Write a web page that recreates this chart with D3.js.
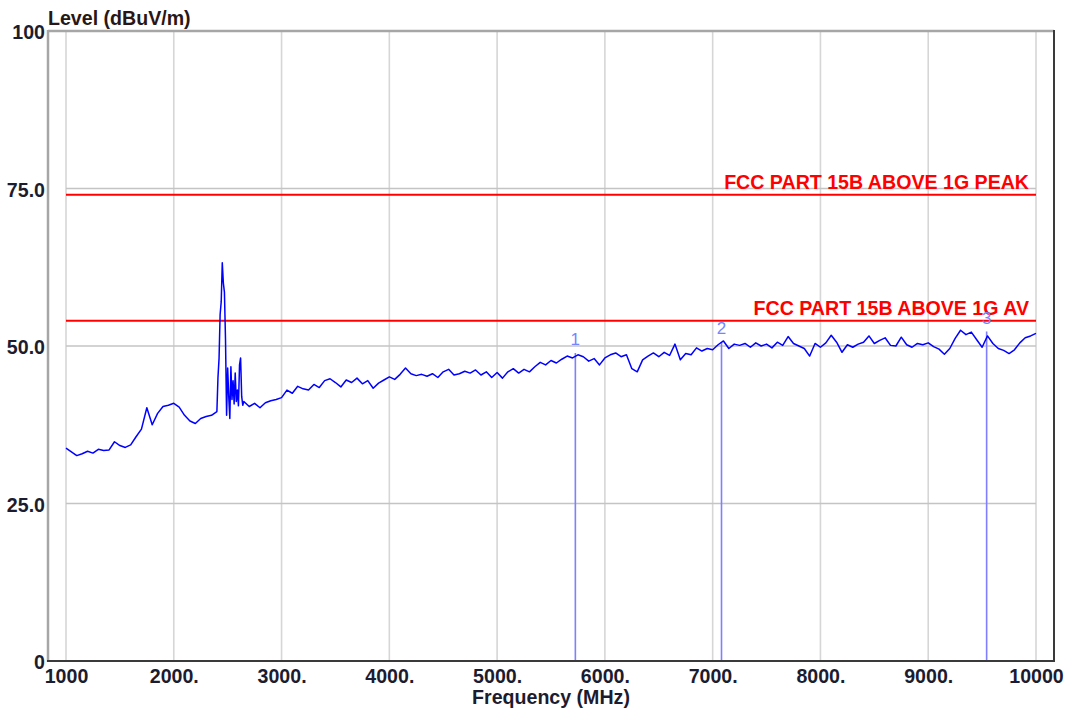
<!DOCTYPE html>
<html>
<head>
<meta charset="utf-8">
<script src="https://cdn.jsdelivr.net/npm/d3@7"></script>
<style>
  html, body { margin: 0; padding: 0; background: #ffffff; }
  svg { display: block; }
  text { font-family: "Liberation Sans", Arial, sans-serif; }
</style>
</head>
<body>
<div id="chart"></div>
<script>
// ---------- data ----------
const xTickValues = [1000, 2000, 3000, 4000, 5000, 6000, 7000, 8000, 9000, 10000];
const xTickLabels = ["1000", "2000.", "3000.", "4000.", "5000.", "6000.", "7000.", "8000.", "9000.", "10000"];
const yTickValues = [0, 25, 50, 75, 100];
const yTickLabels = ["0", "25.0", "50.0", "75.0", "100"];

const freqMHz = [
  1000,1050,1100,1150,1200,1250,1300,1350,1400,1450,1500,1550,1600,1650,1700,
  1750,1800,1850,1900,1950,2000,2050,2100,2150,2200,2250,2300,2350,2400,
  2410,2420,2430,2440,2450,2460,2470,2480,2490,2500,2510,2520,2530,2540,2550,
  2560,2570,2580,2590,2600,2610,2620,2630,2640,2650,
  2700,2750,2800,2850,2900,2950,3000,3050,3100,3150,3200,3250,3300,3350,3400,
  3450,3500,3550,3600,3650,3700,3750,3800,3850,3900,3950,4000,4050,4100,4150,
  4200,4250,4300,4350,4400,4450,4500,4550,4600,4650,4700,4750,4800,4850,4900,
  4950,5000,5050,5100,5150,5200,5250,5300,5350,5400,5450,5500,5550,5600,5650,
  5700,5750,5800,5850,5900,5950,6000,6050,6100,6150,6200,6250,6300,6350,6400,
  6450,6500,6550,6600,6650,6700,6750,6800,6850,6900,6950,7000,7050,7100,7150,
  7200,7250,7300,7350,7400,7450,7500,7550,7600,7650,7700,7750,7800,7850,7900,
  7950,8000,8050,8100,8150,8200,8250,8300,8350,8400,8450,8500,8550,8600,8650,
  8700,8750,8800,8850,8900,8950,9000,9050,9100,9150,9200,9250,9300,9350,9400,
  9450,9500,9550,9600,9650,9700,9750,9800,9850,9900,9950,10000
];
const levelDbuV = [
  33.8,33.2,32.6,32.9,33.3,33.0,33.6,33.4,33.5,34.8,34.2,33.9,34.3,35.6,36.8,
  40.2,37.5,39.3,40.4,40.6,40.9,40.3,39.0,38.1,37.7,38.5,38.8,39.0,39.6,
  45.0,48.0,55.0,57.0,63.2,60.0,58.5,51.0,39.0,46.5,42.0,38.5,46.7,41.5,44.5,
  40.8,45.7,41.2,43.0,40.5,47.0,48.1,42.0,40.6,41.2,
  40.4,40.9,40.2,41.0,41.3,41.5,41.8,43.0,42.5,43.6,43.2,43.0,43.9,43.4,44.5,
  44.8,44.2,43.5,44.6,44.2,44.9,44.0,44.5,43.3,44.1,44.6,45.1,44.7,45.5,46.5,
  45.6,45.3,45.5,45.2,45.6,45.0,45.9,46.3,45.4,45.6,46.0,45.7,46.2,45.4,45.9,
  45.0,45.8,44.9,45.9,46.4,45.7,46.3,45.9,46.7,47.4,47.0,47.7,47.3,47.9,48.4,
  48.1,48.6,48.3,47.6,48.0,47.0,48.1,48.6,48.9,48.3,48.6,46.4,45.9,47.8,48.4,
  48.9,48.3,49.0,48.5,50.3,47.8,48.8,48.6,49.7,49.2,49.6,49.4,50.2,50.8,49.6,
  50.3,50.1,50.4,49.8,50.5,50.0,50.3,49.7,50.6,50.1,51.5,50.4,50.0,49.6,48.4,
  50.4,49.8,50.5,51.7,50.6,49.0,50.2,49.8,50.3,50.6,51.6,50.4,50.9,51.3,50.1,
  50.0,51.4,50.2,49.8,50.4,50.2,50.5,49.9,49.5,48.7,49.6,51.2,52.5,51.8,52.2,
  51.0,49.8,51.6,50.4,49.6,49.3,48.8,49.4,50.5,51.3,51.6,52.0
];

const markerIds = ["1", "2", "3"];
const markerFreqMHz = [5726, 7082, 9542];
const markerLevel = [48.9, 50.6, 52.3];

const limitNames = ["FCC PART 15B ABOVE 1G PEAK", "FCC PART 15B ABOVE 1G AV"];
const limitLevels = [74, 54];

// ---------- drawing ----------
const W = 1068, H = 710;
const frame = { left: 48, right: 1054, top: 31, bottom: 661 };
const x = d3.scaleLinear().domain([1000, 10000]).range([66, 1036]);
const y = d3.scaleLinear().domain([0, 100]).range([frame.bottom, frame.top]);

const svg = d3.select("#chart").append("svg")
  .attr("width", W).attr("height", H)
  .style("background", "#ffffff");

const FONT = "bold 19.6px 'Liberation Sans', Arial, sans-serif";
const TXT = "#1c1c30";

// grid
const grid = svg.append("g");
grid.selectAll("line.v").data(xTickValues).join("line")
  .attr("x1", d => x(d)).attr("x2", d => x(d))
  .attr("y1", frame.top).attr("y2", frame.bottom)
  .attr("stroke", "#d6d6d6").attr("stroke-width", 1.6);
grid.selectAll("line.h").data(yTickValues.filter(v => v > 0 && v < 100)).join("line")
  .attr("x1", x(1000)).attr("x2", x(10000))
  .attr("y1", d => y(d)).attr("y2", d => y(d))
  .attr("stroke", "#c4c4c4").attr("stroke-width", 1.6);

// limit lines
const lim = svg.append("g");
lim.selectAll("line").data(limitLevels).join("line")
  .attr("x1", x(1000)).attr("x2", x(10000))
  .attr("y1", d => y(d)).attr("y2", d => y(d))
  .attr("stroke", "#ff0000").attr("stroke-width", 2);
lim.selectAll("text").data(limitNames).join("text")
  .attr("x", 1029)
  .attr("y", (d, i) => y(limitLevels[i]) - 6)
  .attr("text-anchor", "end")
  .style("font", FONT)
  .attr("fill", "#ff0000")
  .text(d => d);

// marker lines
const mk = svg.append("g");
mk.selectAll("line").data(markerFreqMHz).join("line")
  .attr("x1", d => x(d)).attr("x2", d => x(d))
  .attr("y1", (d, i) => y(markerLevel[i])).attr("y2", frame.bottom)
  .attr("stroke", "#7f7fff").attr("stroke-width", 1.6);

// trace
const pts = freqMHz.map((f, i) => [f, levelDbuV[i]]);
svg.append("path")
  .datum(pts)
  .attr("d", d3.line().x(d => x(d[0])).y(d => y(d[1])))
  .attr("fill", "none")
  .attr("stroke", "#0000ff")
  .attr("stroke-width", 1.5)
  .attr("stroke-linejoin", "round");

// marker labels
mk.selectAll("text").data(markerIds).join("text")
  .attr("x", (d, i) => x(markerFreqMHz[i]))
  .attr("y", (d, i) => y(markerLevel[i]) - 8)
  .attr("text-anchor", "middle")
  .style("font", "17px 'Liberation Sans', Arial, sans-serif")
  .attr("fill", "#7585ff")
  .text(d => d);

// frame
svg.append("line").attr("x1", frame.left).attr("x2", frame.left)
  .attr("y1", frame.top - 1).attr("y2", frame.bottom + 1)
  .attr("stroke", "#a6a6a6").attr("stroke-width", 2.5);
svg.append("line").attr("x1", frame.left).attr("x2", frame.right)
  .attr("y1", frame.top).attr("y2", frame.top)
  .attr("stroke", "#a6a6a6").attr("stroke-width", 2.5);
svg.append("line").attr("x1", frame.right).attr("x2", frame.right)
  .attr("y1", frame.top - 1).attr("y2", frame.bottom + 1)
  .attr("stroke", "#3a3a3a").attr("stroke-width", 2);
svg.append("line").attr("x1", frame.left - 1).attr("x2", frame.right + 1)
  .attr("y1", frame.bottom).attr("y2", frame.bottom)
  .attr("stroke", "#3a3a3a").attr("stroke-width", 2);

// axes
const xAxis = d3.axisBottom(x)
  .tickValues(xTickValues)
  .tickFormat((d, i) => xTickLabels[i])
  .tickSize(0).tickPadding(8);
const gx = svg.append("g").attr("transform", `translate(0,${frame.bottom})`).call(xAxis);
gx.select(".domain").remove();
gx.selectAll("text").style("font", FONT).attr("fill", TXT);

const yAxis = d3.axisLeft(y)
  .tickValues(yTickValues)
  .tickFormat((d, i) => yTickLabels[i])
  .tickSize(0).tickPadding(3);
const gy = svg.append("g").attr("transform", `translate(${frame.left},0)`).call(yAxis);
gy.select(".domain").remove();
gy.selectAll("text").style("font", FONT).attr("fill", TXT).attr("dy", "0.4em");

// titles
svg.append("text").attr("x", 48).attr("y", 25)
  .style("font", FONT).attr("fill", "#2a1616")
  .text("Level (dBuV/m)");
svg.append("text").attr("x", x(5500)).attr("y", 704)
  .attr("text-anchor", "middle")
  .style("font", FONT).attr("fill", TXT)
  .text("Frequency (MHz)");
</script>
</body>
</html>
